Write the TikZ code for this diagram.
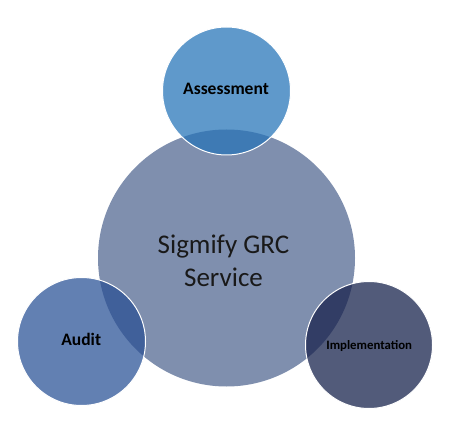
\documentclass[tikz,border=0pt]{standalone}
\usepackage{fontspec}
\setmainfont{Carlito}
\definecolor{bigc}{RGB}{127,143,174}
\definecolor{assc}{RGB}{95,153,203}
\definecolor{assov}{RGB}{62,122,180}
\definecolor{audc}{RGB}{98,128,178}
\definecolor{audov}{RGB}{64,96,154}
\definecolor{impc}{RGB}{82,91,122}
\definecolor{impov}{RGB}{50,61,101}
\begin{document}
\begin{tikzpicture}[x=1pt,y=-1pt,
  bigcircle/.style={circle,inner sep=0pt,minimum size=257pt,fill=bigc},
  smallcircle/.style={circle,inner sep=0pt,minimum size=128pt,draw=white,line width=1pt},
  smalllabel/.style={anchor=base,inner sep=0pt,text=black,font=\bfseries\fontsize{17.5}{20}\selectfont},
  bigtext/.style={align=center,inner sep=0pt,text={black!90},font=\fontsize{27}{33}\selectfont}]
\useasboundingbox (0,0) rectangle (452,435);
\node[bigcircle] (big) at (226.5,258) {};
\node[bigtext] (bigt) at (223.5,261.3) {Sigmify GRC\\Service};
\node[smallcircle,fill=assc,path picture={\fill[assov] (big.center) circle[radius=128.5pt];}] (assess) at (226.5,91) {};
\node[smallcircle,fill=audc,path picture={\fill[audov] (big.center) circle[radius=128.5pt];}] (audit) at (81.5,341.5) {};
\node[smallcircle,fill=impc,minimum size=127pt,path picture={\fill[impov] (big.center) circle[radius=128.5pt];}] (impl) at (369,345) {};
\node[smalllabel] (assesst) at (226,94.3) {Assessment};
\node[smalllabel] (auditt) at (81.2,345) {Audit};
\node[smalllabel,font=\bfseries\fontsize{12.8}{15}\selectfont] (implt) at (369.2,349.3) {Implementation};
\end{tikzpicture}
\end{document}
